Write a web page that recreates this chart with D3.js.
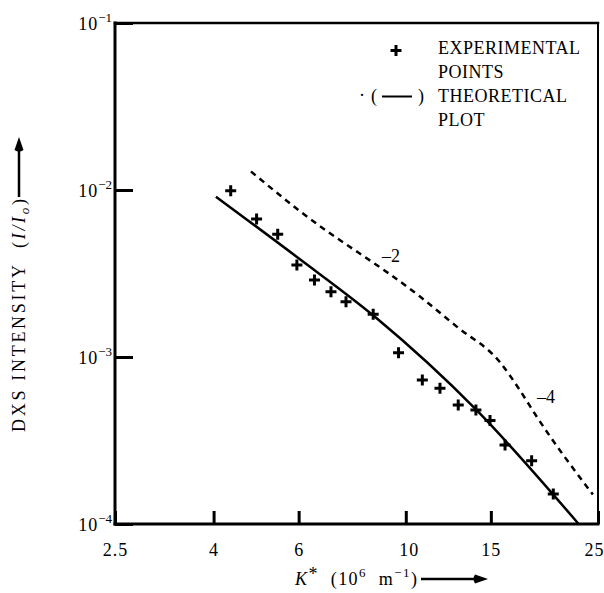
<!DOCTYPE html>
<html>
<head>
<meta charset="utf-8">
<script src="https://cdn.jsdelivr.net/npm/d3@7"></script>
<style>
  html, body { margin: 0; padding: 0; background: #fff; }
  svg { display: block; }
  svg text { font-family: "Liberation Serif", "DejaVu Serif", serif; fill: #000; }
</style>
</head>
<body>
<svg id="chart" width="604" height="593" font-family="Liberation Serif"></svg>
<script>
// ---- data ----
const expK = [4.34, 4.91, 5.43, 5.95, 6.47, 7.00, 7.52, 8.56, 9.66, 10.82, 11.77, 12.84, 13.97, 14.94, 16.05, 18.22, 20.2];
const expI = [0.0099, 0.0067, 0.00543, 0.00356, 0.00289, 0.00246, 0.00214, 0.0018, 0.00106, 0.000728, 0.00065, 0.000516, 0.000482, 0.000416, 0.000297, 0.000239, 0.000151];

const theoK = [4.045, 6.0, 8.63, 14.0, 22.8];
const theoI = [0.00912, 0.0039, 0.00174, 0.000482, 0.0001];

const dashK = [4.78, 6.0, 10.7, 12.75, 15.67, 17.24, 18.66, 24.4];
const dashI = [0.0129, 0.00757, 0.0023, 0.00152, 0.00093, 0.00063, 0.00044, 0.00015];

const xTicks = [2.5, 4, 6, 10, 15, 25];
const xTickLabels = ["2.5", "4", "6", "10", "15", "25"];
const yTicks = [1e-1, 1e-2, 1e-3, 1e-4];
const yTickExp = ["\u22121", "\u22122", "\u22123", "\u22124"];

const slopeLabels = [
  { k: 8.93, i: 0.00371, t: "\u20132" },
  { k: 18.69, i: 0.000531, t: "\u20134" }
];

const legendRows = ["EXPERIMENTAL", "POINTS", "THEORETICAL", "PLOT"];

// ---- layout ----
const svg = d3.select("#chart");
const L = 115, R = 598, T = 23, B = 524;
const FONT = "Liberation Serif";

const x = d3.scaleLog().domain([2.5, 25]).range([L, R]);
const y = d3.scaleLog().domain([1e-4, 1e-1]).range([B, T]);

// axes (ticks drawn inward)
const xAxis = d3.axisBottom(x).tickValues(xTicks)
  .tickFormat((d, i) => xTickLabels[i])
  .tickSizeInner(-13).tickSizeOuter(0).tickPadding(19);
const gx = svg.append("g").attr("transform", `translate(0,${B})`).call(xAxis)
  .attr("font-family", FONT).attr("font-size", 18);
gx.select(".domain").remove();
gx.selectAll(".tick line").attr("stroke", "#000").attr("stroke-width", 3);
gx.selectAll(".tick text").attr("letter-spacing", 1)
  .attr("dx", (d, i) => i === xTicks.length - 1 ? -4 : (i === 3 ? 3 : 0));

const yAxis = d3.axisLeft(y).tickValues(yTicks)
  .tickFormat(() => "")
  .tickSizeInner(-18).tickSizeOuter(0).tickPadding(3);
const gy = svg.append("g").attr("transform", `translate(${L},0)`).call(yAxis)
  .attr("font-family", FONT).attr("font-size", 18);
gy.select(".domain").remove();
gy.selectAll(".tick line").attr("stroke", "#000").attr("stroke-width", 3);
gy.selectAll(".tick text").each(function(d, i) {
  const t = d3.select(this).attr("dy", null).attr("y", 6).attr("text-anchor", "end");
  t.text(null);
  t.append("tspan").attr("letter-spacing", 1).text("10");
  t.append("tspan").attr("dy", -8).attr("font-size", 13).text(yTickExp[i]);
});

// frame
const frame = svg.append("g").attr("stroke", "#000").attr("stroke-linecap", "square");
frame.append("line").attr("x1", L).attr("x2", L).attr("y1", T).attr("y2", B).attr("stroke-width", 3);
frame.append("line").attr("x1", L).attr("x2", R).attr("y1", B).attr("y2", B).attr("stroke-width", 3);
frame.append("line").attr("x1", L).attr("x2", R).attr("y1", T).attr("y2", T).attr("stroke-width", 2.5);
frame.append("line").attr("x1", R).attr("x2", R).attr("y1", T).attr("y2", B).attr("stroke-width", 2);

// theoretical solid line
const theo = theoK.map((k, i) => [k, theoI[i]]);
const mono = d3.line().x(d => x(d[0])).y(d => y(d[1])).curve(d3.curveMonotoneX);
svg.append("path").datum(theo).attr("d", mono)
  .attr("fill", "none").attr("stroke", "#000").attr("stroke-width", 2.5);

// dashed line
const dash = dashK.map((k, i) => [k, dashI[i]]);
svg.append("path").datum(dash).attr("d", mono)
  .attr("fill", "none").attr("stroke", "#000").attr("stroke-width", 2.5)
  .attr("stroke-dasharray", "6,5");

// experimental points
const cross = "M-5.5,0H5.5M0,-5.5V5.5";
svg.append("g").selectAll("path").data(expK.map((k, i) => [k, expI[i]])).join("path")
  .attr("d", cross)
  .attr("transform", d => `translate(${x(d[0])},${y(d[1])})`)
  .attr("stroke", "#000").attr("stroke-width", 3).attr("fill", "none");

// slope labels
svg.append("g").selectAll("text").data(slopeLabels).join("text")
  .attr("x", d => x(d.k)).attr("y", d => y(d.i))
  .attr("font-size", 18).text(d => d.t);

// legend
const lg = svg.append("g").attr("font-size", 18);
lg.append("path").attr("d", cross).attr("transform", "translate(396,50.5)")
  .attr("stroke", "#000").attr("stroke-width", 3);
lg.selectAll("text.row").data(legendRows).join("text").attr("class", "row")
  .attr("x", 438).attr("y", (d, i) => 54 + i * 24)
  .attr("letter-spacing", 0.5).text(d => d);
lg.append("text").attr("x", 359).attr("y", 101).text("\u00b7");
lg.append("text").attr("x", 371).attr("y", 102).text("(");
lg.append("text").attr("x", 418).attr("y", 102).text(")");
lg.append("line").attr("x1", 382).attr("x2", 412).attr("y1", 96.5).attr("y2", 96.5)
  .attr("stroke", "#000").attr("stroke-width", 2);

// arrow helper
function arrow(x1, y1, x2, y2) {
  const g = svg.append("g");
  const ang = Math.atan2(y2 - y1, x2 - x1);
  const hl = 13, hw = 4.5;
  const bx = x2 - hl * Math.cos(ang), by = y2 - hl * Math.sin(ang);
  g.append("line").attr("x1", x1).attr("y1", y1).attr("x2", bx).attr("y2", by)
    .attr("stroke", "#000").attr("stroke-width", 2.5);
  const px = -Math.sin(ang) * hw, py = Math.cos(ang) * hw;
  g.append("path")
    .attr("d", `M${x2},${y2} L${bx + px},${by + py} Q${bx - 3 * Math.cos(ang)},${by - 3 * Math.sin(ang)} ${bx - px},${by - py} Z`)
    .attr("fill", "#000");
}

// x title
const xt = svg.append("text").attr("x", 295).attr("y", 585).attr("font-size", 18)
  .attr("textLength", 122).attr("lengthAdjust", "spacing");
xt.append("tspan").attr("font-style", "italic").text("K");
xt.append("tspan").attr("dy", -5).text("*");
xt.append("tspan").attr("dy", 5).text("\u00a0\u00a0(10");
xt.append("tspan").attr("dy", -8).attr("font-size", 13).text("6");
xt.append("tspan").attr("dy", 8).text("\u00a0\u00a0m");
xt.append("tspan").attr("dy", -8).attr("font-size", 13).text("\u22121");
xt.append("tspan").attr("dy", 8).text(")");
arrow(421, 579, 488, 579);

// y title
const yt = svg.append("text").attr("transform", "translate(25,432) rotate(-90)").attr("font-size", 18)
  .attr("textLength", 233).attr("lengthAdjust", "spacing");
yt.append("tspan").text("DXS\u00a0INTENSITY");
yt.append("tspan").text("\u00a0\u00a0(");
yt.append("tspan").attr("font-style", "italic").text("I/I");
yt.append("tspan").attr("font-style", "italic").attr("font-size", 13).attr("dy", 4).text("o");
yt.append("tspan").attr("dy", -4).text(")");
arrow(19, 197, 19, 137);
</script>
</body>
</html>
